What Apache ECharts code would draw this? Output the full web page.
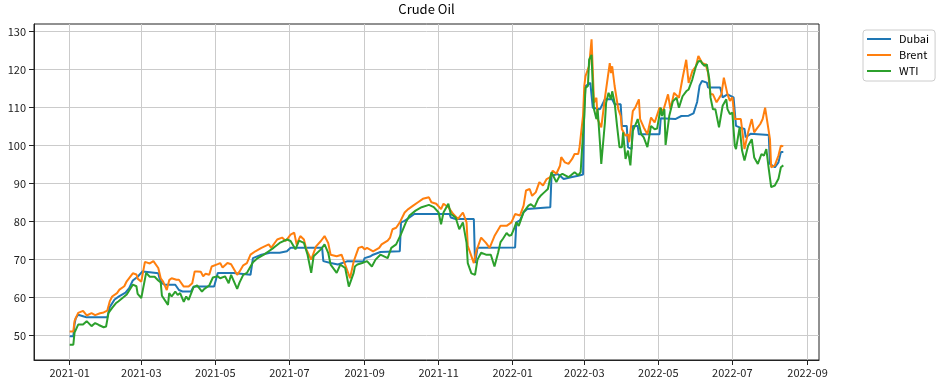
<!DOCTYPE html>
<html>
<head>
<meta charset="utf-8">
<script src="https://cdn.jsdelivr.net/npm/echarts@6/dist/echarts.min.js"></script>
<style>html,body{margin:0;padding:0;background:#fff}#c{width:939px;height:386px}</style>
</head>
<body>
<div id="c"></div>
<script>
const seriesNames = ['Dubai', 'Brent', 'WTI'];
const seriesColors = ['#1f77b4', '#ff7f0e', '#2ca02c'];
const yTicks = [50, 60, 70, 80, 90, 100, 110, 120, 130];
const xTickMonths = ['2021-01','2021-03','2021-05','2021-07','2021-09','2021-11','2022-01','2022-03','2022-05','2022-07','2022-09'];

const dubaiData = [
['2021-01-01',49.8],['2021-01-04',49.8],['2021-01-05',53.0],['2021-01-06',54.6],['2021-01-08',55.5],['2021-01-12',55.1],['2021-01-15',54.8],['2021-02-01',54.8],
['2021-02-03',57.5],['2021-02-07',59.5],['2021-02-11',60.4],['2021-02-16',61.3],['2021-02-19',62.5],['2021-02-22',64.5],['2021-02-26',65.5],['2021-03-02',66.9],
['2021-03-08',66.7],['2021-03-15',66.4],['2021-03-16',65.1],['2021-03-18',63.8],['2021-03-20',63.4],['2021-03-29',63.4],['2021-04-01',62.0],['2021-04-04',61.6],
['2021-04-11',61.6],['2021-04-13',62.9],['2021-04-30',62.9],['2021-05-03',66.5],['2021-05-16',66.5],['2021-05-17',66.0],['2021-05-30',66.0],['2021-06-01',70.4],
['2021-06-08',71.3],['2021-06-15',71.8],['2021-06-23',71.8],['2021-06-29',72.2],['2021-07-02',73.1],['2021-07-28',73.1],['2021-07-29',69.6],['2021-08-04',69.1],
['2021-08-10',68.7],['2021-08-18',69.6],['2021-08-31',69.5],['2021-09-01',70.4],['2021-09-06',70.9],['2021-09-08',71.3],['2021-09-14',72.0],['2021-09-30',72.2],
['2021-10-01',79.8],['2021-10-04',80.2],['2021-10-12',82.0],['2021-11-10',82.0],['2021-11-11',81.1],['2021-11-15',80.7],['2021-11-30',80.7],['2021-12-01',69.1],
['2021-12-03',73.1],['2022-01-03',73.2],['2022-01-04',79.8],['2022-01-07',80.3],['2022-01-10',82.5],['2022-01-13',83.3],['2022-02-01',83.8],['2022-02-02',92.1],
['2022-02-07',92.5],['2022-02-09',92.1],['2022-02-12',91.2],['2022-02-18',91.7],['2022-02-24',92.1],['2022-02-28',92.4],['2022-03-01',110.0],['2022-03-02',115.7],
['2022-03-06',116.5],['2022-03-07',116.5],['2022-03-08',110.0],['2022-03-09',109.6],['2022-03-14',109.6],['2022-03-16',110.9],['2022-03-18',112.2],['2022-03-24',112.2],
['2022-03-26',110.9],['2022-03-31',110.9],['2022-04-01',105.2],['2022-04-05',105.2],['2022-04-06',99.6],['2022-04-09',99.1],['2022-04-10',105.2],['2022-04-14',105.2],
['2022-04-15',103.0],['2022-05-02',103.0],['2022-05-03',107.2],['2022-05-15',107.0],['2022-05-20',107.8],['2022-05-26',107.9],['2022-05-30',108.5],['2022-06-01',110.5],
['2022-06-02',111.5],['2022-06-04',115.8],['2022-06-06',117.0],['2022-06-10',116.6],['2022-06-11',115.3],['2022-06-21',115.3],['2022-06-23',112.7],['2022-06-27',113.5],
['2022-07-02',112.7],['2022-07-04',105.2],['2022-07-07',104.8],['2022-07-11',104.4],['2022-07-12',102.2],['2022-07-16',103.1],['2022-07-31',102.8],['2022-08-01',95.2],
['2022-08-05',94.3],['2022-08-08',95.6],['2022-08-10',98.3],['2022-08-12',98.3]
];

const brentData = [
['2021-01-01',51.1],['2021-01-04',51.1],['2021-01-05',53.8],['2021-01-06',54.6],['2021-01-08',56.0],['2021-01-12',56.5],['2021-01-15',55.3],['2021-01-19',55.9],
['2021-01-22',55.4],['2021-01-26',55.9],['2021-01-29',56.1],['2021-02-01',56.6],['2021-02-03',59.0],['2021-02-05',60.3],['2021-02-09',61.2],['2021-02-11',62.1],
['2021-02-15',63.0],['2021-02-17',64.3],['2021-02-22',66.4],['2021-02-25',66.1],['2021-02-26',65.0],['2021-03-01',64.2],['2021-03-04',69.4],['2021-03-08',69.0],
['2021-03-11',69.6],['2021-03-12',69.1],['2021-03-15',67.8],['2021-03-17',65.1],['2021-03-19',64.2],['2021-03-22',62.0],['2021-03-24',64.6],['2021-03-26',65.1],
['2021-03-30',64.7],['2021-04-01',64.7],['2021-04-05',62.9],['2021-04-09',62.9],['2021-04-12',63.8],['2021-04-14',66.9],['2021-04-16',66.9],['2021-04-19',66.8],
['2021-04-21',65.6],['2021-04-23',66.3],['2021-04-26',66.0],['2021-04-28',68.2],['2021-05-03',68.8],['2021-05-05',69.1],['2021-05-07',67.9],['2021-05-11',69.1],
['2021-05-14',68.8],['2021-05-19',66.0],['2021-05-21',66.9],['2021-05-24',68.5],['2021-05-27',69.1],['2021-05-30',71.3],['2021-06-03',72.2],['2021-06-08',73.1],
['2021-06-14',74.0],['2021-06-16',73.1],['2021-06-21',75.3],['2021-06-25',75.8],['2021-06-28',74.9],['2021-07-02',76.6],['2021-07-05',77.1],['2021-07-07',74.0],
['2021-07-10',76.2],['2021-07-13',75.3],['2021-07-15',72.7],['2021-07-19',70.0],['2021-07-23',73.5],['2021-07-27',74.9],['2021-07-30',76.2],['2021-08-02',74.4],
['2021-08-04',71.3],['2021-08-09',70.9],['2021-08-13',71.3],['2021-08-17',67.8],['2021-08-20',65.1],['2021-08-23',69.5],['2021-08-25',71.3],['2021-08-27',73.1],
['2021-08-30',73.4],['2021-09-01',72.7],['2021-09-03',73.1],['2021-09-08',72.2],['2021-09-13',73.1],['2021-09-15',74.0],['2021-09-20',75.0],['2021-09-22',75.8],
['2021-09-24',78.0],['2021-09-27',78.4],['2021-09-30',79.8],['2021-10-04',82.4],['2021-10-07',83.3],['2021-10-11',84.2],['2021-10-15',85.1],['2021-10-19',86.0],
['2021-10-24',86.4],['2021-10-26',85.1],['2021-10-30',84.7],['2021-11-03',83.3],['2021-11-05',84.7],['2021-11-09',83.8],['2021-11-13',82.0],['2021-11-17',80.7],
['2021-11-21',82.4],['2021-11-24',79.8],['2021-11-25',73.6],['2021-11-29',70.0],['2021-11-30',69.1],['2021-12-02',72.2],['2021-12-06',75.8],['2021-12-10',74.4],
['2021-12-13',73.1],['2021-12-17',76.2],['2021-12-22',78.9],['2021-12-27',78.9],['2021-12-31',79.8],['2022-01-03',82.0],['2022-01-07',81.6],['2022-01-10',84.2],
['2022-01-12',88.2],['2022-01-15',88.6],['2022-01-17',86.8],['2022-01-20',87.7],['2022-01-23',90.4],['2022-01-26',89.5],['2022-01-29',91.2],['2022-02-01',91.7],
['2022-02-03',93.4],['2022-02-06',92.6],['2022-02-09',94.7],['2022-02-10',97.0],['2022-02-13',95.6],['2022-02-16',95.2],['2022-02-19',96.5],['2022-02-21',97.8],
['2022-02-24',97.8],['2022-02-25',99.3],['2022-02-28',108.0],['2022-03-01',115.7],['2022-03-02',118.3],['2022-03-03',117.8],['2022-03-05',121.0],['2022-03-07',128.0],
['2022-03-08',120.0],['2022-03-09',111.3],['2022-03-11',112.6],['2022-03-12',107.0],['2022-03-15',104.8],['2022-03-18',112.6],['2022-03-19',113.0],['2022-03-22',121.7],
['2022-03-23',119.1],['2022-03-24',120.9],['2022-03-26',115.7],['2022-03-29',109.6],['2022-03-31',107.8],['2022-04-01',104.3],['2022-04-04',102.6],['2022-04-06',103.0],
['2022-04-07',100.9],['2022-04-10',109.1],['2022-04-12',110.0],['2022-04-15',112.2],['2022-04-16',107.0],['2022-04-19',104.8],['2022-04-22',103.0],['2022-04-25',107.4],
['2022-04-28',106.1],['2022-05-02',110.0],['2022-05-05',109.1],['2022-05-09',113.5],['2022-05-11',109.6],['2022-05-14',113.9],['2022-05-18',112.6],['2022-05-21',117.8],
['2022-05-24',122.6],['2022-05-26',116.5],['2022-05-29',119.6],['2022-06-01',120.9],['2022-06-03',123.6],['2022-06-06',121.8],['2022-06-09',121.4],['2022-06-11',119.2],
['2022-06-13',113.5],['2022-06-15',113.5],['2022-06-18',111.4],['2022-06-22',113.5],['2022-06-24',117.9],['2022-06-27',113.5],['2022-06-29',111.8],['2022-07-01',112.7],
['2022-07-03',107.0],['2022-07-08',107.0],['2022-07-10',101.7],['2022-07-11',99.1],['2022-07-14',103.5],['2022-07-17',107.0],['2022-07-19',103.5],['2022-07-21',104.4],
['2022-07-24',105.7],['2022-07-26',107.0],['2022-07-28',110.0],['2022-07-29',110.0],['2022-08-01',101.7],['2022-08-02',94.3],['2022-08-05',94.8],['2022-08-08',97.4],
['2022-08-10',100.0],['2022-08-12',99.8]
];

const wtiData = [
['2021-01-01',47.6],['2021-01-04',47.6],['2021-01-05',50.8],['2021-01-08',52.9],['2021-01-12',52.9],['2021-01-15',53.8],['2021-01-19',52.5],['2021-01-22',53.3],
['2021-01-25',52.8],['2021-01-29',52.2],['2021-01-31',52.4],['2021-02-02',56.0],['2021-02-05',57.3],['2021-02-08',58.5],['2021-02-10',59.0],['2021-02-17',60.8],
['2021-02-22',63.4],['2021-02-25',63.0],['2021-02-26',61.0],['2021-03-01',59.9],['2021-03-05',66.5],['2021-03-08',65.5],['2021-03-12',65.5],['2021-03-15',64.5],
['2021-03-17',64.0],['2021-03-18',60.5],['2021-03-19',60.7],['2021-03-23',58.1],['2021-03-24',61.2],['2021-03-26',60.3],['2021-03-29',61.6],['2021-03-31',60.7],
['2021-04-02',61.2],['2021-04-05',58.9],['2021-04-07',60.3],['2021-04-09',59.4],['2021-04-13',62.7],['2021-04-16',63.2],['2021-04-20',61.6],['2021-04-22',62.3],
['2021-04-26',63.2],['2021-04-29',65.3],['2021-05-03',65.6],['2021-05-05',65.1],['2021-05-09',65.6],['2021-05-12',63.8],['2021-05-14',66.0],['2021-05-19',62.3],
['2021-05-21',64.0],['2021-05-24',66.0],['2021-05-27',66.5],['2021-05-30',68.2],['2021-06-01',69.3],['2021-06-05',70.4],['2021-06-10',71.3],['2021-06-14',72.2],
['2021-06-18',73.1],['2021-06-23',74.4],['2021-06-29',75.3],['2021-07-02',74.9],['2021-07-06',72.7],['2021-07-09',75.0],['2021-07-13',74.4],['2021-07-16',71.3],
['2021-07-19',66.5],['2021-07-21',70.9],['2021-07-27',72.7],['2021-07-30',74.0],['2021-08-02',71.8],['2021-08-04',68.7],['2021-08-09',66.5],['2021-08-12',68.7],
['2021-08-16',67.8],['2021-08-19',62.9],['2021-08-20',62.4],['2021-08-23',66.5],['2021-08-24',68.2],['2021-08-26',68.7],['2021-08-30',69.1],['2021-09-03',69.6],
['2021-09-07',68.2],['2021-09-10',70.0],['2021-09-14',71.3],['2021-09-20',70.4],['2021-09-23',73.1],['2021-09-27',74.0],['2021-10-01',76.7],['2021-10-05',79.8],
['2021-10-08',81.6],['2021-10-13',82.9],['2021-10-18',83.8],['2021-10-24',84.4],['2021-10-28',83.8],['2021-11-01',82.4],['2021-11-03',79.3],['2021-11-05',82.4],
['2021-11-09',84.7],['2021-11-11',82.0],['2021-11-15',81.1],['2021-11-18',78.0],['2021-11-21',79.8],['2021-11-24',74.4],['2021-11-25',69.1],['2021-11-28',66.4],
['2021-12-01',66.0],['2021-12-03',70.0],['2021-12-06',71.8],['2021-12-10',71.3],['2021-12-14',71.3],['2021-12-17',68.2],['2021-12-20',71.8],['2021-12-22',74.6],
['2021-12-24',75.5],['2021-12-27',77.0],['2021-12-29',76.3],['2021-12-31',76.5],['2022-01-02',78.0],['2022-01-04',79.8],['2022-01-06',78.9],['2022-01-10',82.5],
['2022-01-14',84.2],['2022-01-16',84.6],['2022-01-19',83.8],['2022-01-22',86.0],['2022-01-24',86.8],['2022-01-27',87.7],['2022-01-30',88.6],['2022-02-02',93.0],
['2022-02-03',93.5],['2022-02-06',90.4],['2022-02-09',92.2],['2022-02-11',92.6],['2022-02-16',91.7],['2022-02-18',92.2],['2022-02-21',93.0],['2022-02-24',92.2],
['2022-02-26',93.0],['2022-02-27',98.3],['2022-03-01',107.8],['2022-03-02',115.2],['2022-03-04',115.7],['2022-03-05',122.6],['2022-03-07',123.9],['2022-03-08',115.7],
['2022-03-09',109.6],['2022-03-11',107.0],['2022-03-12',109.6],['2022-03-14',100.4],['2022-03-15',95.2],['2022-03-18',106.1],['2022-03-19',111.3],['2022-03-21',113.9],
['2022-03-23',112.2],['2022-03-24',114.3],['2022-03-26',111.3],['2022-03-28',105.2],['2022-03-30',99.6],['2022-04-01',99.6],['2022-04-02',103.5],['2022-04-04',96.5],
['2022-04-06',98.7],['2022-04-08',94.8],['2022-04-10',103.9],['2022-04-13',106.1],['2022-04-14',107.0],['2022-04-15',105.7],['2022-04-17',103.0],['2022-04-19',102.2],
['2022-04-22',99.6],['2022-04-25',105.2],['2022-04-28',104.3],['2022-04-30',104.5],['2022-05-03',110.0],['2022-05-04',107.8],['2022-05-06',109.6],['2022-05-07',100.2],
['2022-05-10',107.8],['2022-05-13',111.7],['2022-05-16',112.6],['2022-05-18',110.0],['2022-05-21',113.0],['2022-05-24',114.3],['2022-05-26',114.8],['2022-05-29',117.4],
['2022-06-01',120.9],['2022-06-03',122.2],['2022-06-05',122.3],['2022-06-06',121.7],['2022-06-08',121.0],['2022-06-10',121.4],['2022-06-12',117.5],['2022-06-13',112.7],
['2022-06-15',109.6],['2022-06-17',109.6],['2022-06-20',104.8],['2022-06-23',110.5],['2022-06-26',112.2],['2022-06-27',109.6],['2022-06-29',108.3],['2022-07-01',108.7],
['2022-07-03',100.0],['2022-07-04',99.1],['2022-07-07',104.8],['2022-07-09',98.7],['2022-07-11',96.1],['2022-07-14',100.0],['2022-07-17',101.7],['2022-07-19',96.9],
['2022-07-22',95.2],['2022-07-25',97.8],['2022-07-27',97.4],['2022-07-29',99.1],['2022-07-31',93.9],['2022-08-02',89.1],['2022-08-05',89.5],['2022-08-08',91.3],
['2022-08-10',94.3],['2022-08-12',94.8]
];

function ts(s) {
  const p = s.split('-').map(Number);
  return Date.UTC(p[0], p[1] - 1, p.length > 2 ? p[2] : 1);
}
const allData = [dubaiData, brentData, wtiData];
const seriesPoints = allData.map(arr => arr.map(d => [ts(d[0]), d[1]]));

// matplotlib-like 5% margins
let xLo = Infinity, xHi = -Infinity, yLo = Infinity, yHi = -Infinity;
seriesPoints.forEach(arr => arr.forEach(p => {
  xLo = Math.min(xLo, p[0]); xHi = Math.max(xHi, p[0]);
  yLo = Math.min(yLo, p[1]); yHi = Math.max(yHi, p[1]);
}));
const xm = (xHi - xLo) * 0.05, ym = (yHi - yLo) * 0.05;
const xTickValues = xTickMonths.map(ts);
const FONT = '"Noto Sans CJK KR", "Noto Sans", sans-serif';

function fmtMonth(v) {
  const d = new Date(v);
  const m = d.getUTCMonth() + 1;
  return d.getUTCFullYear() + '-' + (m < 10 ? '0' + m : m);
}

const chart = echarts.init(document.getElementById('c'), null, {renderer: 'canvas'});
chart.setOption({
  animation: false,
  backgroundColor: '#ffffff',
  title: {
    text: 'Crude Oil', left: 426.5, top: 3, textAlign: 'center', padding: 0,
    textStyle: {fontFamily: FONT, fontSize: 13, fontWeight: 'normal', color: '#000'}
  },
  legend: {
    data: seriesNames, orient: 'vertical', left: 863, top: 30,
    icon: 'rect', itemWidth: 24, itemHeight: 2, itemGap: 4,
    padding: [3, 6, 4, 4],
    borderColor: '#cccccc', borderWidth: 1, borderRadius: 3,
    backgroundColor: 'rgba(255,255,255,0.8)', selectedMode: false,
    textStyle: {fontFamily: FONT, fontSize: 11, color: '#000', lineHeight: 12, padding: [0, 0, 0, 3]}
  },
  grid: {left: 34, right: 120, top: 24, bottom: 26, show: true, borderColor: '#222', borderWidth: 1, backgroundColor: 'transparent', outerBoundsMode: 'none'},
  xAxis: {
    type: 'value', min: xLo - xm, max: xHi + xm,
    axisLine: {show: true, lineStyle: {color: '#222', width: 1}},
    axisTick: {show: true, inside: false, length: 5, customValues: xTickValues, lineStyle: {color: '#222'}},
    axisLabel: {show: true, customValues: xTickValues, formatter: fmtMonth, margin: 7, fontFamily: FONT, fontSize: 11, color: '#222', hideOverlap: false},
    splitLine: {show: true, lineStyle: {color: '#cbcbcb', width: 1}}
  },
  yAxis: {
    type: 'value', min: yLo - ym, max: yHi + ym,
    axisLine: {show: true, lineStyle: {color: '#222', width: 1}},
    axisTick: {show: true, inside: false, length: 5, customValues: yTicks, lineStyle: {color: '#222'}},
    axisLabel: {show: true, customValues: yTicks, margin: 8, fontFamily: FONT, fontSize: 11, color: '#222'},
    splitLine: {show: true, lineStyle: {color: '#cbcbcb', width: 1}}
  },
  series: seriesNames.map((n, i) => ({
    name: n, type: 'line', data: seriesPoints[i], showSymbol: false, symbol: 'none',
    color: seriesColors[i], lineStyle: {color: seriesColors[i], width: 2}, z: 2 + i,
    emphasis: {disabled: true}
  }))
});
</script>
</body>
</html>
